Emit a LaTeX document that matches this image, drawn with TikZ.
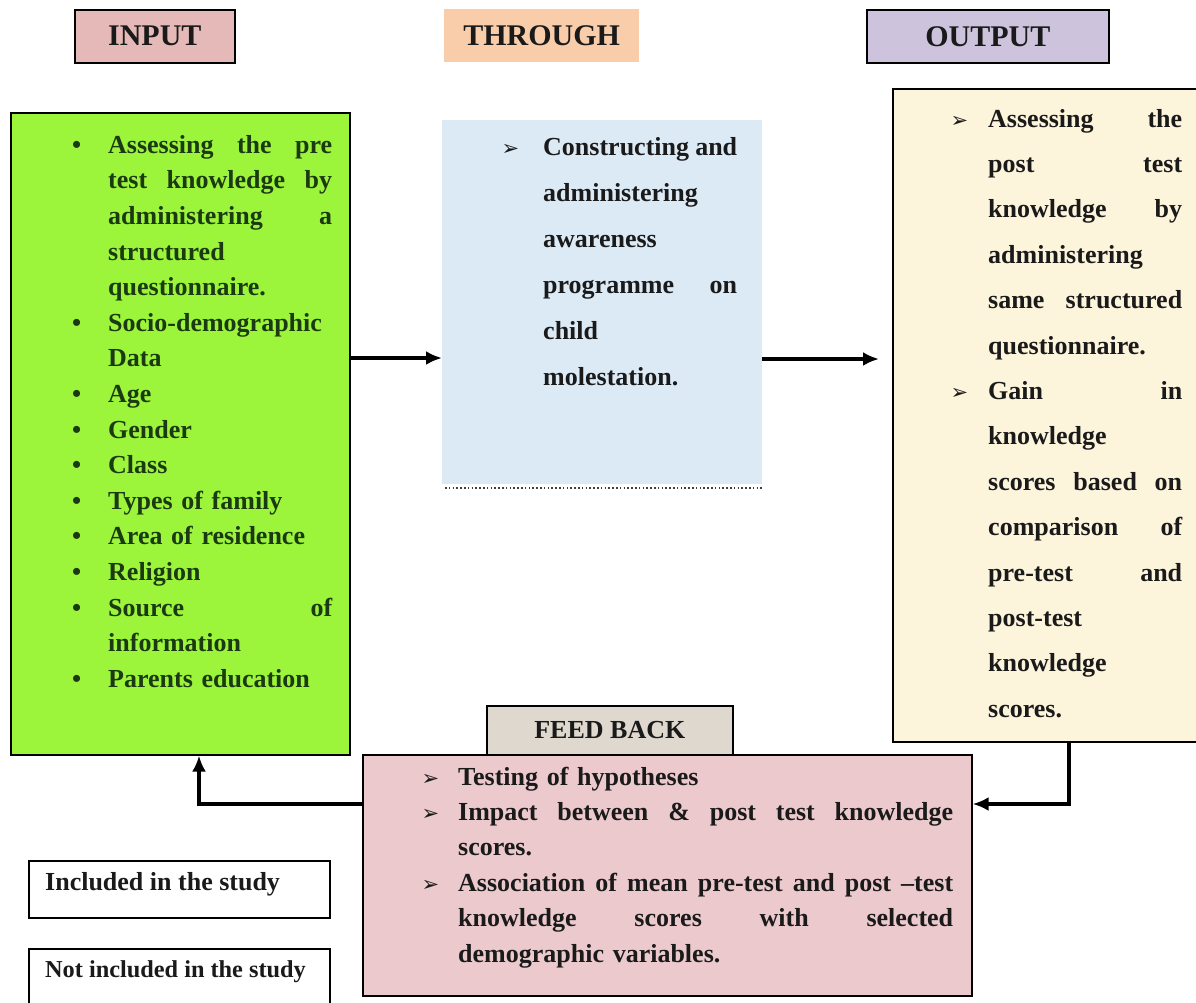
\documentclass[tikz,border=0pt]{standalone}
\usepackage{fontspec}
\setmainfont{Liberation Serif}
\newfontfamily\dejavu{DejaVu Sans}
\usetikzlibrary{arrows.meta,calc}

\definecolor{inputc}{HTML}{E5B9B8}
\definecolor{throughc}{HTML}{FACDAA}
\definecolor{outputc}{HTML}{CDC3DD}
\definecolor{greenc}{HTML}{9CF53B}
\definecolor{thboxc}{HTML}{DCEAF6}
\definecolor{outboxc}{HTML}{FDF4DC}
\definecolor{fbheadc}{HTML}{DED8CE}
\definecolor{fbboxc}{HTML}{EBC9CC}
\definecolor{gtext}{HTML}{1C3A12}
\definecolor{dtext}{HTML}{1A1A1A}

% justified line: words separated by \hfill
\newcommand{\jl}[2]{\leavevmode\hbox to #1{#2}}
\newcommand{\gbul}{\leavevmode\makebox[0pt][r]{\textbullet\hspace{27pt}}}
\newcommand{\abul}[1]{\leavevmode\makebox[0pt][r]{{\dejavu\fontsize{21}{21}\selectfont ➢}\hspace{#1}}}

\tikzset{
  boxst/.style={draw=black, line width=1.6pt, rectangle, inner sep=0pt, anchor=north west},
  headst/.style={rectangle, inner sep=0pt, anchor=north west, font=\bfseries\fontsize{30}{30}\selectfont, text=dtext},
  txt/.style={inner sep=0pt, anchor=north west, align=left, text=dtext},
  arr/.style={line width=3.2pt, -{Latex[length=16pt,width=14pt]}, line join=miter},
}

\begin{document}
\begin{tikzpicture}[x=1pt,y=-1pt]
\clip (0,0) rectangle (1196,1002);
\fill[white] (0,0) rectangle (1196,1002);

% headers
\node[headst, draw=black, line width=1.6pt, fill=inputc, minimum width=160pt, minimum height=53pt] (hin) at (74,9) {INPUT};
\node[headst, fill=throughc, minimum width=195pt, minimum height=53pt] (hth) at (444,9) {THROUGH};
\node[headst, draw=black, line width=1.6pt, fill=outputc, minimum width=242pt, minimum height=53pt] (hout) at (866,9) {OUTPUT};

% main boxes
\node[boxst, fill=greenc, minimum width=339pt, minimum height=642pt] (inbox) at (10,112) {};
\node[rectangle, inner sep=0pt, anchor=north west, fill=thboxc, minimum width=320pt, minimum height=364pt] (thbox) at (442,120) {};
\draw[line width=2pt, draw=black!75, dash pattern=on 1.6pt off 2.2pt] (thbox.south west) ++(3,4) coordinate (dl) -- (dl -| thbox.south east);
\node[boxst, fill=outboxc, minimum width=320pt, minimum height=653pt] (outbox) at (892,88) {};

% feedback
\node[headst, draw=black, line width=1.6pt, fill=fbheadc, minimum width=246pt, minimum height=49pt, font=\bfseries\fontsize{26}{26}\selectfont] (fbhead) at (486,705) {FEED BACK};
\node[boxst, fill=fbboxc, minimum width=609pt, minimum height=241pt] (fbbox) at (362,754) {};

% legend
\node[boxst, fill=white, minimum width=301pt, minimum height=57pt] (leg1) at (28,860) {};
\node[boxst, fill=white, minimum width=301pt, minimum height=70pt] (leg2) at (28,948) {};
\node[txt, anchor=base west, font=\bfseries\fontsize{26}{26}\selectfont] (leg1t) at (45,890) {Included in the study};
\node[txt, anchor=base west, font=\bfseries\fontsize{24.3}{24}\selectfont] (leg2t) at (45,977) {Not included in the study};

% input text
\node[txt, text=gtext, text width=232pt, font=\bfseries\fontsize{26}{35.6}\selectfont] (intext) at (108,128.1) {%
\strut\gbul\jl{224pt}{Assessing\hfill the\hfill pre}\\
\jl{224pt}{test\hfill knowledge\hfill by}\\
\jl{224pt}{administering\hfill a}\\
structured\\
questionnaire.\\
\gbul Socio-demographic\\
Data\\
\gbul Age\\
\gbul Gender\\
\gbul Class\\
\gbul Types of family\\
\gbul Area of residence\\
\gbul Religion\\
\gbul\jl{224pt}{Source\hfill of}\\
information\\
\gbul Parents education};

% through text
\node[txt, text width=200pt, font=\bfseries\fontsize{26}{46}\selectfont] (thtext) at (543,122.8) {%
\strut\abul{24pt}\jl{194pt}{Constructing\hfill and}\\
administering\\
awareness\\
\jl{194pt}{programme\hfill on}\\
child\\
molestation.};

% output text
\node[txt, text width=200pt, font=\bfseries\fontsize{26}{45.4}\selectfont] (outtext) at (988,95.2) {%
\strut\abul{20pt}\jl{194pt}{Assessing\hfill the}\\
\jl{194pt}{post\hfill test}\\
\jl{194pt}{knowledge\hfill by}\\
administering\\
\jl{194pt}{same\hfill structured}\\
questionnaire.\\
\abul{20pt}\jl{194pt}{Gain\hfill in}\\
knowledge\\
\jl{194pt}{scores\hfill based\hfill on}\\
\jl{194pt}{comparison\hfill of}\\
\jl{194pt}{pre-test\hfill and}\\
post-test\\
knowledge\\
scores.};

% feedback text
\node[txt, text width=500pt, font=\bfseries\fontsize{26}{35.4}\selectfont] (fbtext) at (458,760.2) {%
\strut\abul{19pt}Testing of hypotheses\\
\abul{19pt}\jl{495pt}{Impact\hfill between\hfill \&\hfill post\hfill test\hfill knowledge}\\
scores.\\
\abul{19pt}\jl{495pt}{Association\hfill of\hfill mean\hfill pre-test\hfill and\hfill post\hfill --test}\\
\jl{495pt}{knowledge\hfill scores\hfill with\hfill selected}\\
demographic variables.};

% connectors
\coordinate (a1) at (0,358);
\coordinate (a2) at (0,359);
\coordinate (c1) at (1069,804);
\coordinate (c2) at (199,804);
\draw[arr] (inbox.east |- a1) -- (thbox.west |- a1);
\draw[arr, shorten >=13pt] (thbox.east |- a2) -- (outbox.west |- a2);
\draw[arr] (outbox.south -| c1) -- (c1) -- (fbbox.east |- c1);
\draw[arr] (fbbox.west |- c2) -- (c2) -- (inbox.south -| c2);
\end{tikzpicture}
\end{document}
